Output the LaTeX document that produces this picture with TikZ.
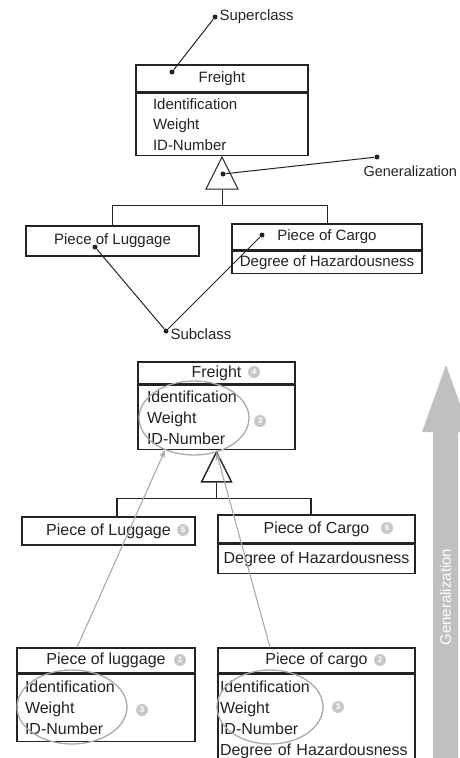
\documentclass[tikz,border=0pt]{standalone}
\usepackage{fontspec}
\setmainfont{Liberation Sans}
\usetikzlibrary{arrows.meta,positioning,shapes.geometric}
\definecolor{ink}{RGB}{35,35,35}
\definecolor{soft}{RGB}{170,170,170}
\definecolor{pale}{RGB}{200,200,200}
\definecolor{band}{RGB}{192,192,192}
\tikzset{
  every picture/.style={color=ink, line width=1pt},
  cls/.style={draw=ink, line width=1.2pt, fill=white, inner sep=0pt, font=\fontsize{15}{18}\selectfont},
  clsb/.style={cls, line width=1.4pt, font=\fontsize{16}{19}\selectfont},
  attr/.style={cls, align=left, font=\fontsize{15}{20.5}\selectfont},
  attrb/.style={clsb, align=left, font=\fontsize{16}{21}\selectfont},
  gen/.style={isosceles triangle, shape border rotate=90, isosceles triangle stretches, draw=ink, fill=white, inner sep=0pt, anchor=apex},
  dot/.style={circle, fill=ink, inner sep=0pt, minimum size=5pt},
  lbl/.style={font=\fontsize{15}{18}\selectfont, inner sep=1pt},
  num/.style={circle, fill=pale, text=white, inner sep=0pt, minimum size=12pt, font=\fontsize{8}{8}\selectfont\bfseries},
  ring/.style={ellipse, draw=soft, line width=1.3pt, inner sep=0pt},
  up/.style={-{Stealth[length=8pt,width=6pt]}, draw=soft, line width=1.1pt},
}

\begin{document}
\begin{tikzpicture}[x=1pt, y=-1pt]
  \clip (0,0) rectangle (460,758);
  % upper half: the parts of a generalization
  \node[cls, minimum width=172pt, minimum height=27pt] (fr) at (222,78.5) {Freight};
  \node[attr, anchor=north, text width=138pt, inner xsep=17pt, minimum height=62pt] (fratt) at (fr.south) {Identification\\Weight\\ID-Number};
  \node[gen, minimum width=32pt, minimum height=32pt] (g1) at (fratt.south) {};
  \node[cls, minimum width=173pt, minimum height=30pt] (pl) at (112.5,241) {Piece of Luggage};
  \node[cls, minimum width=190pt, minimum height=26pt] (pc) at (327,237) {Piece of Cargo};
  \node[cls, anchor=north, minimum width=190pt, minimum height=22pt] (pcatt) at (pc.south) {Degree of Hazardousness};
  \draw (g1.south) -- ++(0,16) -| (pl.north);
  \draw (g1.south) -- ++(0,16) -| (pc.north);

  \node[dot] (supl) at (215,17) {};
  \node[lbl, anchor=west] (suptxt) at (218,17) {Superclass};
  \node[dot] (supin) at (172,72) {};
  \draw (supl) -- (supin);
  \node[dot] (gdot) at (223,174) {};
  \node[dot] (gend) at (377,157) {};
  \node[lbl, anchor=west, font=\fontsize{14.5}{17}\selectfont] (gentxt) at (362,171) {Generalization};
  \draw (gdot) -- (gend);
  \node[dot] (sub) at (166,331) {};
  \node[lbl, anchor=west] (subtxt) at (169,334) {Subclass};
  \node[dot] (sl) at (95,247) {};
  \node[dot] (sc) at (262,235) {};
  \draw (sl) -- (sub) -- (sc);

  % lower half: common attributes move up into the superclass
  \node[clsb, minimum width=157pt, minimum height=22pt] (fr2) at (216.5,373) {Freight};
  \node[attrb, anchor=north, text width=139pt, inner xsep=9pt, minimum height=64pt] (fr2att) at (fr2.south) {Identification\\Weight\\ID-Number};
  \node[gen, line width=1.4pt, minimum width=30pt, minimum height=30pt] (g2) at (fr2att.south) {};
  \node[clsb, minimum width=173pt, minimum height=28pt] (pl2) at (108.5,531) {Piece of Luggage};
  \node[clsb, minimum width=197pt, minimum height=28pt] (pc2) at (316.5,529) {Piece of Cargo};
  \node[clsb, anchor=north, minimum width=197pt, minimum height=29pt] (pc2att) at (pc2.south) {Degree of Hazardousness};
  \draw[line width=1.4pt] (g2.south) -- ++(0,16) -| ([xshift=8.5pt]pl2.north);
  \draw[line width=1.4pt] (g2.south) -- ++(0,16) -| ([xshift=-5.5pt]pc2.north);

  \node[clsb, minimum width=178pt, minimum height=25pt] (pl3) at (106,660.5) {Piece of luggage};
  \node[attrb, anchor=north, text width=162pt, inner xsep=8pt, minimum height=67pt] (pl3att) at (pl3.south) {Identification\\Weight\\ID-Number};
  \node[clsb, minimum width=197pt, minimum height=25pt] (pc3) at (316.5,660.5) {Piece of cargo};
  \node[attrb, anchor=north, text width=193pt, inner xsep=2pt, minimum height=91pt] (pc3att) at (pc3.south) {Identification\\Weight\\ID-Number\\Degree of Hazardousness};

  \node[ring, minimum width=110pt, minimum height=74pt] (e0) at (194,418) {};
  \node[ring, minimum width=110pt, minimum height=74pt] (e1) at (72,707) {};
  \node[ring, minimum width=106pt, minimum height=74pt] (e2) at (270,707) {};
  \draw[up] ([xshift=-29pt]pl3.north) -- (e0.228);
  \draw[up] ([xshift=-46.5pt]pc3.north) -- (e0.303);

  \node[num] (n4) at (254,372) {4};
  \node[num] (n3a) at (260,421) {3};
  \node[num] (n5) at (183,530) {5};
  \node[num] (n6) at (387,528) {6};
  \node[num] (n1) at (180,660) {1};
  \node[num] (n2) at (380,660) {2};
  \node[num] (n3b) at (142,710) {3};
  \node[num] (n3c) at (338,707) {3};

  % direction of generalization
  \fill[band] (433,760) -- (433,432) -- (422,432) -- (446,365) -- (470,432) -- (458,432) -- (458,760) -- cycle;
  \node[rotate=90, text=white, font=\fontsize{15}{15}\selectfont] (genbar) at (445.5,597) {Generalization};
\end{tikzpicture}
\end{document}
